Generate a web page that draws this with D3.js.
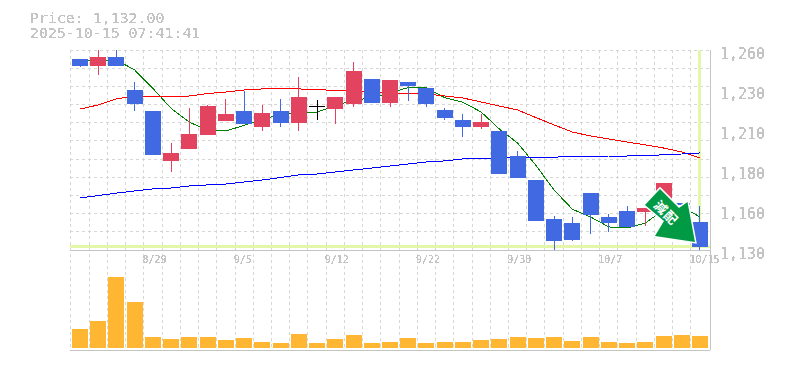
<!DOCTYPE html>
<html>
<head>
<meta charset="utf-8">
<script src="https://cdn.jsdelivr.net/npm/d3@7"></script>
<style>
  html, body { margin: 0; padding: 0; background: #fff; }
  text { font-family: "DejaVu Sans Mono", monospace; fill: #c4c4c4; }
</style>
</head>
<body>
<div id="chart"></div>
<script>
const dates = ["8/25","8/26","8/27","8/28","8/29","9/1","9/2","9/3","9/4","9/5","9/8","9/9","9/10","9/11","9/12","9/16","9/17","9/18","9/19","9/22","9/24","9/25","9/26","9/29","9/30","10/1","10/2","10/3","10/6","10/7","10/8","10/9","10/10","10/14","10/15"]
const dateLabels = ["8/29","9/5","9/12","9/22","9/30","10/7","10/15"]
const priceTicks = [1260, 1234, 1208, 1182, 1156, 1130]

const open = [1254.2,1249.6,1255.5,1234,1220.4,1187.9,1195.7,1204.8,1213.9,1220.4,1209.9,1220.4,1212.6,1223.6,1221.7,1224.9,1241.2,1225.6,1239.2,1235.3,1221,1214.5,1209.9,1207.4,1191.1,1175.5,1150.2,1147.6,1167,1151.5,1155.4,1154.7,1162.5,1160.6,1148.2]
const close = [1249.6,1255.5,1249.6,1224.9,1191.8,1193.1,1205.4,1223.6,1218.4,1211.9,1219.1,1212.6,1229.5,1223.6,1229.5,1246.4,1225.6,1240.5,1236.6,1224.9,1215.8,1209.9,1213.2,1179.4,1176.8,1148.9,1135.9,1136.5,1152.8,1147.6,1145,1157.3,1173.6,1159.3,1132]
const high = [1254.2,1260,1260,1239.2,1220.4,1199.6,1222.3,1224.3,1228.2,1233.4,1224.3,1228.2,1242.5,1227.5,1229.5,1252.2,1241.2,1240.5,1239.2,1235.3,1222.3,1218.4,1218.4,1207.4,1194.4,1175.5,1152.1,1151.5,1167,1153.4,1158.6,1157.3,1173.6,1160.6,1158.6]
const low = [1249,1243.8,1249.6,1220.4,1191.8,1180.7,1195.7,1204.8,1213.9,1211.9,1207.4,1209.9,1207.4,1214.5,1211.9,1223,1225.6,1223,1226.9,1223,1214.5,1203.5,1208.7,1179.4,1176.8,1148.9,1130,1135.9,1140.4,1141.7,1145,1145.6,1173.6,1159.3,1130]

const maShort = [1253.5,1253.5,1253.5,1247,1235,1222,1213,1208,1207.4,1211,1215,1218,1219,1219.7,1223.6,1227.5,1228.8,1232,1235.6,1235.3,1229,1226,1219.7,1208.6,1199.5,1185,1169,1156.5,1151.5,1145,1144.3,1147.5,1156,1158,1151.5]
const maMid = [1221.6,1224.3,1228.2,1230.1,1230.1,1230.1,1230.1,1231.7,1232.7,1234,1234.7,1234.7,1234.7,1234.3,1233.7,1233.4,1232.7,1232,1232,1231.4,1230.1,1228.8,1226.2,1223.6,1221,1216.1,1211.3,1206.7,1204.1,1202.2,1200.2,1198.3,1196.3,1193.7,1189.8]
const maLong = [1163.8,1165.4,1167,1168.4,1169.7,1170.3,1171.6,1172.3,1172.9,1174.2,1175.5,1177.1,1178.8,1179.4,1180.7,1182,1183.3,1184.6,1185.9,1187.2,1187.9,1189.2,1189.8,1189.8,1190.1,1190.4,1190.4,1190.6,1190.6,1191.1,1191.1,1191.3,1191.9,1192.4,1193.1]
const volume = [19,27,71,46,11,9,11,11,8,10,6,5,14,5,9,13,5,6,10,5,6,6,8,9,11,10,11,7,11,6,5,6,12,13,12]

const currentPrice = 1132
const width = 785, height = 370
const upColor = "#e2435f", downColor = "#4169e1", dojiColor = "#000"

const svg = d3.select("#chart").append("svg")
  .attr("width", width)
  .attr("height", height)
  .style("display", "block")

// Hard threshold on the glyph edges, the reference text is not antialiased
const defs = svg.append("defs")
const hard = defs.append("filter").attr("id", "hard")
  .attr("x", 0).attr("y", 0).attr("width", 1).attr("height", 1)
hard.append("feComponentTransfer").append("feFuncA")
  .attr("type", "discrete").attr("tableValues", "0 1 1")

const x = d3.scaleBand().domain(d3.range(dates.length)).range([70.9, 709.1])
const y = d3.scaleLinear().domain([1130, 1260]).range([250, 50])
const yVol = d3.scaleLinear().domain([0, 71]).range([348, 277])
const cx = i => x(i) + x.bandwidth() / 2

// Dashed grid
const grid = svg.append("g")
  .attr("stroke", "#d6d6d6")
  .attr("stroke-width", 1)
  .attr("stroke-dasharray", "3,3")
  .attr("shape-rendering", "crispEdges")

grid.selectAll(".v")
  .data(d3.range(dates.length))
  .join("line")
  .classed("v", true)
  .attr("x1", d => x(d))
  .attr("x2", d => x(d))
  .attr("y1", 50)
  .attr("y2", 350)

grid.selectAll(".h")
  .data(d3.range(0, 12))
  .join("line")
  .classed("h", true)
  .attr("x1", 70)
  .attr("x2", 710)
  .attr("y1", d => 50 + d * 200 / 11)
  .attr("y2", d => 50 + d * 200 / 11)

// Frame
const frame = svg.append("g")
  .attr("stroke", "#c4c4c4")
  .attr("shape-rendering", "crispEdges")
frame.append("line").attr("x1", 70).attr("x2", 710).attr("y1", 250).attr("y2", 250).attr("stroke-width", 1)
frame.append("line").attr("x1", 70).attr("x2", 710).attr("y1", 350).attr("y2", 350).attr("stroke-width", 1)
frame.append("line").attr("x1", 710).attr("x2", 710).attr("y1", 50).attr("y2", 350).attr("stroke-width", 1)

// Current price cross hair
const cross = svg.append("g")
  .attr("stroke", "#e4f7a8")
  .attr("stroke-width", 3)
  .attr("shape-rendering", "crispEdges")
cross.append("line")
  .attr("x1", 70).attr("x2", 710)
  .attr("y1", y(currentPrice)).attr("y2", y(currentPrice))
cross.append("line")
  .attr("x1", cx(dates.length - 1)).attr("x2", cx(dates.length - 1))
  .attr("y1", 50).attr("y2", y(currentPrice))

// Moving averages sit behind the candles
const line = d3.line().x((d, i) => cx(i)).y(d => y(d))
const maLines = [[maShort, "#008000"], [maMid, "#ff0000"], [maLong, "#0000ff"]]
maLines.forEach(([values, color]) => {
  svg.append("path")
    .attr("d", line(values))
    .attr("fill", "none")
    .attr("stroke", color)
    .attr("stroke-width", 1)
    .attr("shape-rendering", "crispEdges")
})

// Candles
const candleColor = i => close[i] > open[i] ? upColor : close[i] < open[i] ? downColor : dojiColor
const candles = svg.append("g").attr("shape-rendering", "crispEdges")

candles.selectAll(".wick")
  .data(d3.range(dates.length))
  .join("line")
  .classed("wick", true)
  .attr("x1", cx)
  .attr("x2", cx)
  .attr("y1", d => y(high[d]))
  .attr("y2", d => y(low[d]))
  .attr("stroke", candleColor)

candles.selectAll(".body")
  .data(d3.range(dates.length))
  .join("rect")
  .classed("body", true)
  .attr("x", d => cx(d) - 8)
  .attr("width", 16)
  .attr("y", d => y(Math.max(open[d], close[d])))
  .attr("height", d => Math.max(1, Math.abs(y(open[d]) - y(close[d]))))
  .attr("fill", candleColor)

// Volume
svg.append("g").attr("shape-rendering", "crispEdges")
  .selectAll("rect")
  .data(volume)
  .join("rect")
  .attr("x", (d, i) => cx(i) - 8)
  .attr("width", 16)
  .attr("y", d => yVol(d))
  .attr("height", d => yVol(0) - yVol(d))
  .attr("fill", "#ffb733")

// Signal arrow, offsets from the last candle close
const arrow = svg.append("g")
  .attr("transform", `translate(${cx(dates.length - 1)},${y(currentPrice)})`)
const arrowShape = [[-40,-58],[-21,-39],[-12.5,-45],[-5,-5],[-45,-11],[-36,-26],[-55,-42]]
arrow.append("polygon")
  .attr("points", arrowShape.join(" "))
  .attr("fill", "#009944")
  .attr("stroke", "#fff")
  .attr("stroke-width", 3)
  .attr("paint-order", "stroke")
arrow.append("text")
  .attr("transform", "translate(-34,-34) rotate(45)")
  .attr("text-anchor", "middle")
  .attr("dy", "0.35em")
  .style("font-family", '"Noto Sans CJK JP"')
  .style("font-size", "13px")
  .style("font-weight", "bold")
  .style("letter-spacing", "1px")
  .style("fill", "#fff")
  .text("減配")

// Axes text
const textLayer = svg.append("g").attr("filter", "url(#hard)")

const yAxis = d3.axisRight(y)
  .tickValues(priceTicks)
  .tickFormat(d => d3.format(",")(Math.round(d / 10) * 10))
  .tickSize(0)
  .tickPadding(0)
textLayer.append("g")
  .attr("transform", "translate(720,4)")
  .call(yAxis)
  .call(g => g.select(".domain").remove())
  .call(g => g.selectAll("text").style("font-size", "15px").attr("fill", null))

const xAxis = d3.axisBottom(d3.scalePoint().domain(dates).range([cx(0), cx(dates.length - 1)]))
  .tickValues(dateLabels)
  .tickSize(0)
  .tickPadding(0)
textLayer.append("g")
  .attr("transform", "translate(0,256)")
  .call(xAxis)
  .call(g => g.select(".domain").remove())
  .call(g => g.selectAll("text")
    .style("font-size", "10px")
    .attr("fill", null)
    .attr("text-anchor", "start")
    .attr("dx", -11))

textLayer.append("text").attr("x", 30).attr("y", 23).style("font-size", "14.9px")
  .text("Price: " + d3.format(",.2f")(currentPrice))
textLayer.append("text").attr("x", 30).attr("y", 38).style("font-size", "14.9px")
  .text("2025-10-15 07:41:41")
</script>
</body>
</html>
